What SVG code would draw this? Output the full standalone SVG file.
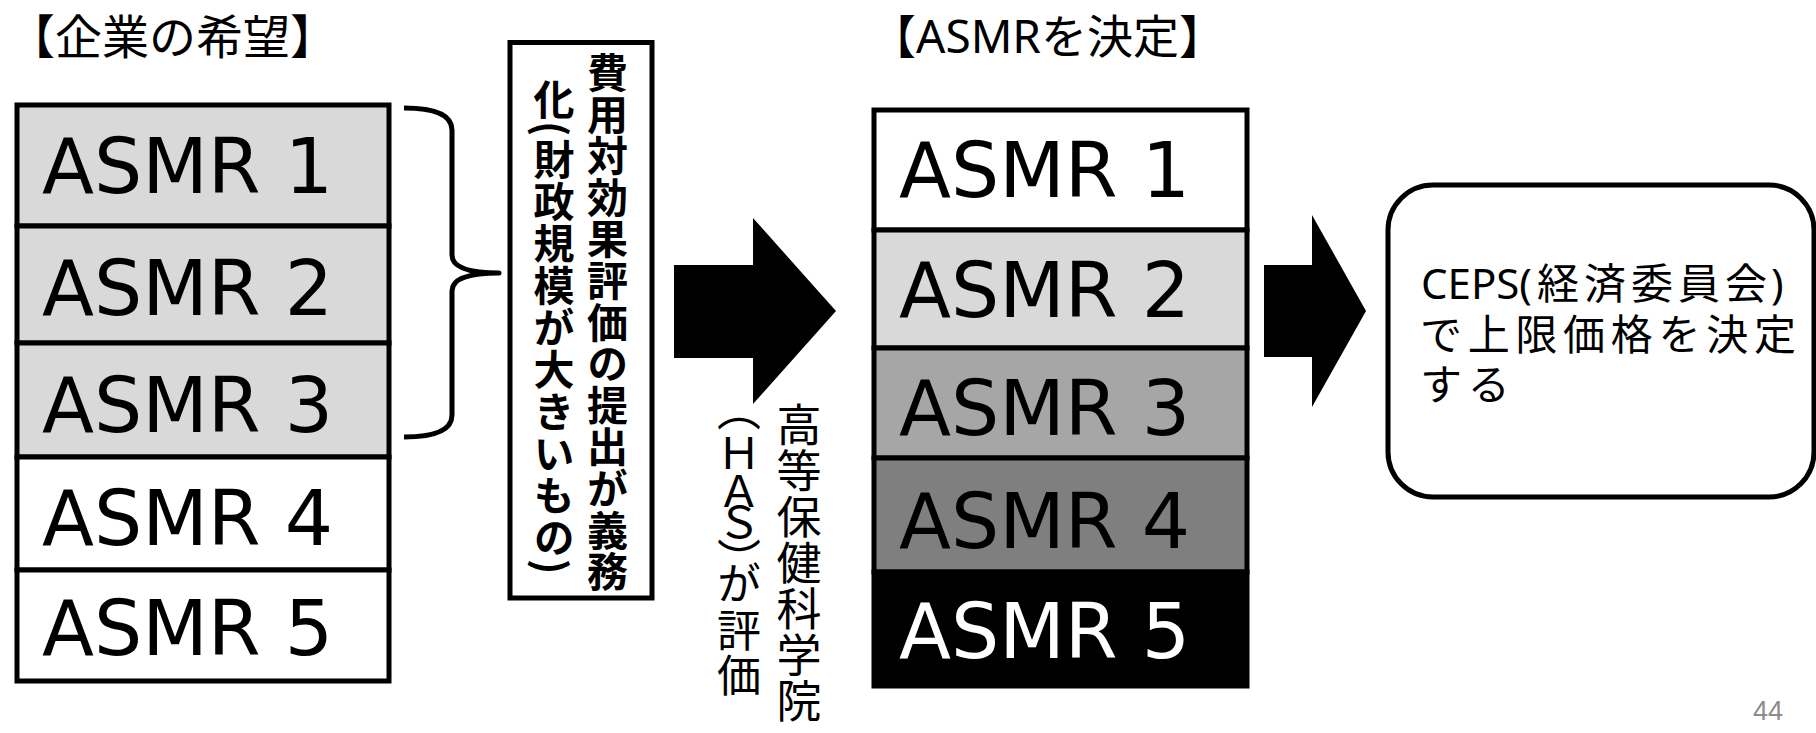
<svg xmlns="http://www.w3.org/2000/svg" width="1816" height="733" viewBox="0 0 1816 733">
<style>
.bg{fill:#fff}
.row{stroke:#000;stroke-width:5}
.asmr{font-family:"DejaVu Sans",Verdana,sans-serif;font-size:76px;fill:#000}
.title{font-family:"Noto Sans","Noto Sans CJK JP",sans-serif;fill:#000}
.vt{writing-mode:vertical-rl;font-family:"Noto Sans CJK JP",sans-serif;fill:#000}
.box{fill:#fff;stroke:#000;stroke-width:5}
.arrow{fill:#000;stroke:none}
.brace{fill:none;stroke:#000;stroke-width:5;stroke-linejoin:round}
.ceps{font-family:"Noto Sans","Noto Sans CJK JP",sans-serif;font-size:42px;fill:#000}
</style>
<rect class="bg" x="0" y="0" width="1816" height="733"/>

<g id="title-left"><text class="title" x="8" y="54" font-size="47">【企業の希望】</text></g>
<g id="title-right"><text class="title" x="870" y="53" font-size="46">【ASMRを決定】</text></g>

<g id="left-stack">
  <g id="left-asmr1"><rect class="row" x="17" y="105" width="372" height="121" fill="#d9d9d9"/><text class="asmr" x="42" y="193">ASMR 1</text></g>
  <g id="left-asmr2"><rect class="row" x="17" y="226" width="372" height="117" fill="#d9d9d9"/><text class="asmr" x="42" y="315">ASMR 2</text></g>
  <g id="left-asmr3"><rect class="row" x="17" y="343" width="372" height="114" fill="#d9d9d9"/><text class="asmr" x="42" y="432">ASMR 3</text></g>
  <g id="left-asmr4"><rect class="row" x="17" y="457" width="372" height="113" fill="#fff"/><text class="asmr" x="42" y="545">ASMR 4</text></g>
  <g id="left-asmr5"><rect class="row" x="17" y="570" width="372" height="111" fill="#fff"/><text class="asmr" x="42" y="655">ASMR 5</text></g>
</g>

<g id="cost-effectiveness-box">
  <rect class="box" x="510" y="42.5" width="142" height="555.5"/>
  <text class="vt" x="607.5" y="52 93.6 135.2 176.8 218.4 260 301.6 343.2 384.8 426.4 468 509.6 551.2" font-size="41" font-weight="bold">費用対効果評価の提出が義務</text>
  <text class="vt" x="554" y="79 121 139 181 223 265 307 349 391 433 475 517 559" font-size="41" font-weight="bold">化(財政規模が大きいもの)</text>
</g>

<g id="has-label">
  <text class="vt" x="799" y="402 448 494 540 586 632 678" font-size="45">高等保健科学院</text>
  <text class="vt" x="739" y="387 431 469 500 538 561 608 653" font-size="44">（ＨＡＳ）が評価</text>
</g>

<g id="right-stack">
  <g id="right-asmr1"><rect class="row" x="874" y="110" width="373" height="120" fill="#fff"/><text class="asmr" x="899" y="197">ASMR 1</text></g>
  <g id="right-asmr2"><rect class="row" x="874" y="230" width="373" height="118" fill="#d9d9d9"/><text class="asmr" x="899" y="317">ASMR 2</text></g>
  <g id="right-asmr3"><rect class="row" x="874" y="348" width="373" height="110" fill="#a6a6a6"/><text class="asmr" x="899" y="435">ASMR 3</text></g>
  <g id="right-asmr4"><rect class="row" x="874" y="458" width="373" height="114" fill="#7f7f7f"/><text class="asmr" x="899" y="548">ASMR 4</text></g>
  <g id="right-asmr5"><rect class="row" x="874" y="572" width="373" height="114" fill="#000"/><text class="asmr" x="899" y="658" style="fill:#fff">ASMR 5</text></g>
</g>

<g id="ceps-box">
  <rect class="box" x="1388" y="185" width="426" height="312" rx="45" ry="45"/>
  <text class="ceps" x="1421" y="299"><tspan>CEPS(</tspan><tspan x="1537" letter-spacing="5">経済委員会</tspan><tspan x="1771">)</tspan></text>
  <text class="ceps" x="1420" y="349.5" letter-spacing="5.7">で上限価格を決定</text>
  <text class="ceps" x="1420" y="400" letter-spacing="5.7">する</text>
</g>

<g id="connectors">
  <path class="brace" d="M404,108 Q452,108 452,130 L452,255 Q452,273 499,273 Q452,273 452,291 L452,415 Q452,437 404,437"/>
  <polygon class="arrow" points="674,265 753,265 753,218 836,311 753,404 753,358 674,358"/>
  <polygon class="arrow" points="1264,265 1312,265 1312,215 1366,311 1312,407 1312,357 1264,357"/>
</g>

<g id="page-number"><text x="1753" y="720" font-family="Liberation Sans, Arial, sans-serif" font-size="27" fill="#8c8c8c">44</text></g>
</svg>
